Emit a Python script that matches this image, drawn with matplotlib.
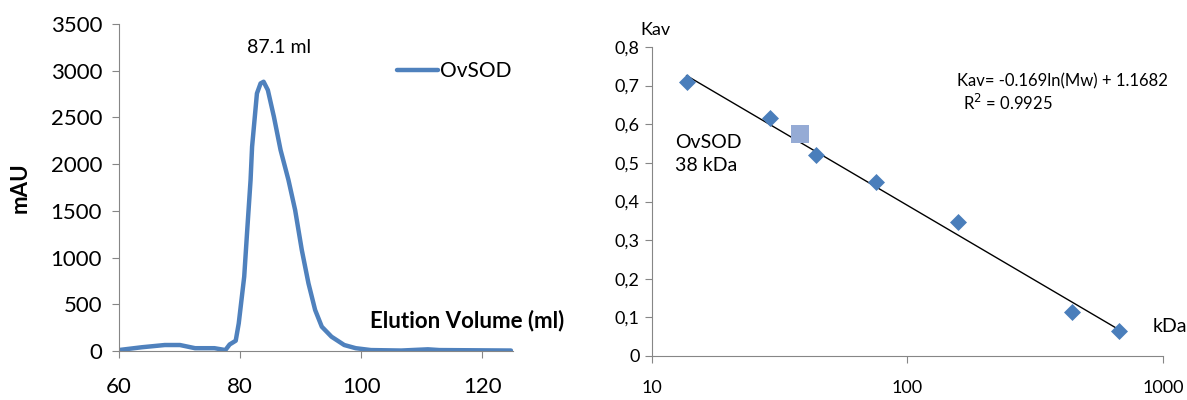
import numpy as np
import matplotlib.pyplot as plt
from matplotlib.ticker import FixedLocator, NullLocator

plt.rcParams['font.family'] = ['Lato', 'DejaVu Sans']

# Chromatogram of OvSOD (elution volume in ml, absorbance in mAU)
volume = [60.0, 63.8, 67.6, 70.1, 72.6, 75.8, 77.6, 78.3, 78.8, 79.3,
          79.8, 80.7, 81.2, 81.75, 82.0, 82.5, 82.8, 83.4, 83.9, 84.6,
          85.6, 86.7, 88.0, 89.1, 90.2, 91.3, 92.4, 93.5, 95.1, 97.2,
          99.1, 101.6, 106.6, 111.0, 112.9, 124.7]
mau = [10, 40, 64, 64, 30, 30, 10, 70, 90, 110,
       296, 795, 1295, 1830, 2186, 2543, 2757, 2864, 2882, 2793,
       2507, 2151, 1830, 1509, 1081, 724, 439, 260, 153, 64,
       30, 10, 5, 18, 10, 5]

# Calibration standards (kDa, Kav) and the sample
std_mw = [13.7, 29, 44, 75, 158, 440, 669]
std_kav = [0.709, 0.615, 0.520, 0.451, 0.346, 0.115, 0.066]
sample_mw = [38]
sample_kav = [0.574]
slope, intercept = -0.169, 1.1682

blue = '#4F81BD'
grey = '#868686'

fig = plt.figure(figsize=(11.87, 4.0), dpi=100)

# ---- left: elution profile ----
ax1 = fig.add_axes([0.100, 0.1225, 0.332, 0.8175])
ax1.plot(volume, mau, color=blue, lw=3.2, label='OvSOD',
         solid_joinstyle='round', solid_capstyle='round')
ax1.set_xlim(60, 125)
ax1.set_ylim(0, 3500)
ax1.set_xticks([60, 80, 100, 120])
ax1.set_yticks(range(0, 3501, 500))
for s in ['top', 'right']:
    ax1.spines[s].set_visible(False)
for s in ['left', 'bottom']:
    ax1.spines[s].set_color(grey)
ax1.tick_params(axis='both', colors=grey, labelcolor='black', labelsize=16,
                length=5, direction='out')
ax1.tick_params(axis='x', pad=14)
ax1.tick_params(axis='y', pad=7)
ax1.set_ylabel('mAU', fontsize=16, fontweight='bold', labelpad=14)
ax1.text(117.4, 330, 'Elution Volume (ml)', fontsize=16, fontweight='bold',
         ha='center', va='center')
ax1.text(86.4, 3250, '87.1 ml', fontsize=14, ha='center', va='center')
ax1.legend(loc='upper left', bbox_to_anchor=(0.705, 0.886), frameon=False,
           fontsize=15, handlelength=2.0, handletextpad=0.1,
           borderpad=0, borderaxespad=0)

# ---- right: calibration curve ----
ax2 = fig.add_axes([0.549, 0.11, 0.431, 0.7725])
ax2.set_xscale('log')
ax2.set_xlim(10, 1000)
ax2.set_ylim(0, 0.8)
fit_x = np.array([min(std_mw), max(std_mw)])
ax2.plot(fit_x, slope * np.log(fit_x) + intercept, color='black', lw=1)
ax2.scatter(std_mw, std_kav, marker='D', s=75, color='#4A7EBB', zorder=3,
            linewidths=0)
ax2.scatter(sample_mw, sample_kav, marker='s', s=160, color='#95ABD5',
            zorder=3, linewidths=0)
ax2.xaxis.set_major_locator(FixedLocator([10, 100, 1000]))
ax2.xaxis.set_minor_locator(NullLocator())
ax2.set_xticklabels(['10', '100', '1000'])
ax2.set_yticks(np.arange(0, 0.81, 0.1))
ax2.set_yticklabels(['0'] + [f'0,{i}' for i in range(1, 9)])
for s in ['top', 'right']:
    ax2.spines[s].set_visible(False)
for s in ['left', 'bottom']:
    ax2.spines[s].set_color(grey)
ax2.tick_params(axis='both', colors=grey, labelcolor='black', labelsize=13,
                length=5, direction='out')
ax2.tick_params(axis='x', pad=12)
ax2.text(-0.023, 1.03, 'Kav', transform=ax2.transAxes, fontsize=13,
         ha='left', va='bottom')
ax2.text(0.045, 0.654, 'OvSOD\n38 kDa', transform=ax2.transAxes, fontsize=14,
         ha='left', va='center', linespacing=1.45)
ax2.text(0.98, 0.094, 'kDa', transform=ax2.transAxes, fontsize=14,
         ha='left', va='center')
ax2.text(0.596, 0.89, 'Kav= -0.169ln(Mw) + 1.1682', transform=ax2.transAxes,
         fontsize=12, ha='left', va='center')
ax2.text(0.608, 0.82, 'R$^2$ = 0.9925', transform=ax2.transAxes,
         fontsize=12, ha='left', va='center')

fig.savefig('out.png', dpi=100)
